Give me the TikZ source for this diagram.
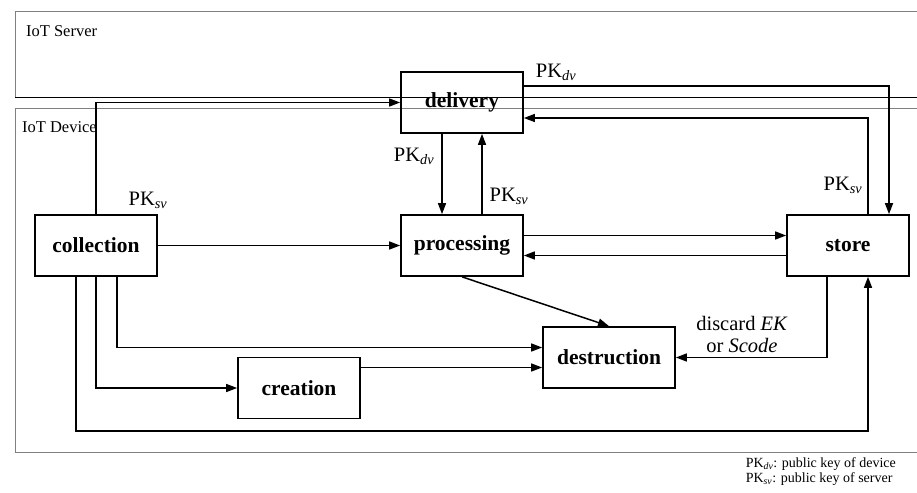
\documentclass[tikz,border=0pt]{standalone}
\usepackage{fontspec}
\setmainfont{Liberation Serif}
\usepackage{tikz}
\usetikzlibrary{positioning}
\usetikzlibrary{arrows.meta}

\newcommand{\pkey}[1]{PK\textsubscript{\textit{#1}}}

\tikzset{
    stage/.style={draw, line width=1.7pt, rectangle, minimum width=122pt, minimum height=61pt,
                  font=\fontsize{21.5}{24}\selectfont\bfseries},
    keylabel/.style={font=\fontsize{20.5}{23}\selectfont},
    zonelabel/.style={font=\fontsize{16.5}{18}\selectfont, anchor=west},
    legendtext/.style={font=\fontsize{14}{14}\selectfont, anchor=west, inner sep=0pt}
}

\begin{document}
\begin{tikzpicture}[x=1pt, y=-1pt, >={Triangle[length=11pt,width=8pt]}, line width=1.5pt]
    \clip (0,0) rectangle (917,492);

    % Zonas
    \draw[gray, line width=0.9pt] (15,11) rectangle (930,97);
    \draw[black, line width=0.9pt] (15,97) -- (930,97);
    \draw[gray, line width=0.9pt] (15,108) rectangle (930,452);
    \node[zonelabel] (server) at (22,31) {IoT Server};
    \node[zonelabel] (device) at (18,127) {IoT Device};

    % Etapas
    \node[stage] (delivery) at (462,102.5) {delivery};
    \node[stage] (collection) at (96,245.5) {collection};
    \node[stage] (processing) at (462,245.5) {processing};
    \node[stage] (store) at (848,245.5) {store};
    \node[stage] (creation) at (299,388) {creation};
    \node[stage, minimum width=132pt] (destruction) at (609,357.5) {destruction};

    % Flechas
    \draw[->] (collection.north) |- (delivery.west);
    \draw[->] (collection.east) -- (processing.west);
    \draw[->] ([xshift=-20pt]delivery.south) -- ([xshift=-20pt]processing.north);
    \draw[->] ([xshift=20pt]processing.north) -- ([xshift=20pt]delivery.south);
    \draw[->] ([yshift=16.5pt]delivery.east) -| ([xshift=41pt]store.north);
    \draw[->] ([xshift=20pt]store.north) |- ([yshift=-15.5pt]delivery.east);
    \draw[->] ([yshift=10pt]processing.east) -- ([yshift=10pt]store.west);
    \draw[->] ([yshift=-10pt]store.west) -- ([yshift=-10pt]processing.east);
    \draw[->] (processing.south) -- (destruction.north);
    \draw[->] ([xshift=21pt]collection.south) |- ([yshift=10pt]destruction.west);
    \draw[->] (collection.south) |- (creation.west);
    \coordinate (lowdest) at ([yshift=-10pt]destruction.west);
    \draw[->] (creation.east |- lowdest) -- (lowdest);
    \coordinate (bottomturn) at (868,431);
    \draw[->] ([xshift=-20pt]collection.south) |- (bottomturn) -- ([xshift=20pt]store.south);
    \draw[->] ([xshift=-21pt]store.south) |- (destruction.east);

    % Etiquetas
    \node[keylabel] (pk1) at (148,200) {\pkey{sv}};
    \node[keylabel] (pk2) at (414,156) {\pkey{dv}};
    \node[keylabel] (pk3) at (509,196) {\pkey{sv}};
    \node[keylabel] (pk4) at (556,72) {\pkey{dv}};
    \node[keylabel] (pk5) at (843,185) {\pkey{sv}};
    \node[keylabel, align=center] (discard) at (742,334) {discard \textit{EK}\\[-1pt]or \textit{Scode}};

    % Leyenda
    \node[legendtext] (legdv) at (745,464) {\pkey{dv}: public key of device};
    \node[legendtext] (legsv) at (745,479) {\pkey{sv}: public key of server};

\end{tikzpicture}
\end{document}
